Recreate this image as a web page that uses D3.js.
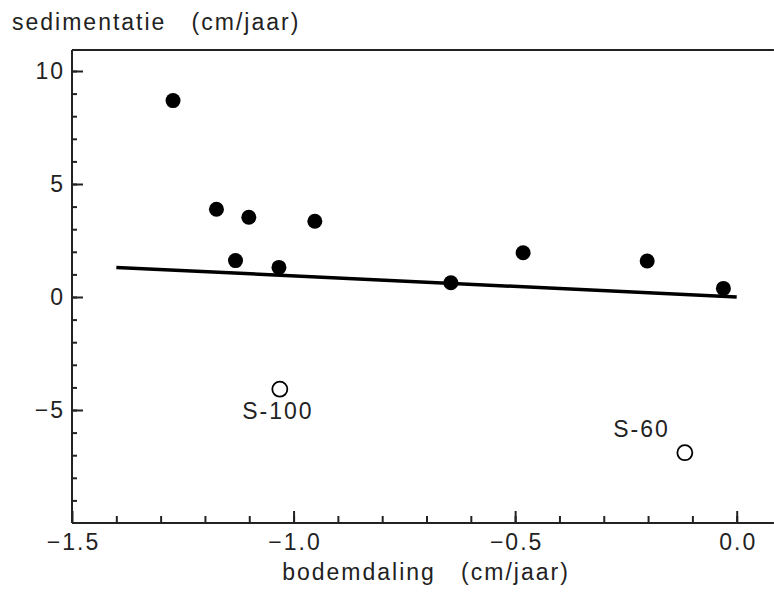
<!DOCTYPE html>
<html><head><meta charset="utf-8">
<script src="https://cdn.jsdelivr.net/npm/d3@7"></script>
<style>
body{margin:0;background:#fff;}
text{font-family:"Liberation Sans",Arial,sans-serif;fill:#222;white-space:pre;letter-spacing:2px;}
</style></head>
<body><svg id="c" width="774" height="596"></svg>
<script>
// data
const filledX = [-1.272, -1.174, -1.101, -0.952, -1.131, -1.033, -0.645, -0.482, -0.202, -0.030];
const filledY = [8.69, 3.88, 3.53, 3.35, 1.61, 1.31, 0.63, 1.96, 1.59, 0.38];
const openX = [-1.031, -0.117];
const openY = [-4.08, -6.89];
const openLabels = ["S-100", "S-60"];
const lineX = [-1.4, 0];
const lineY = [1.31, 0];
const xTicks = [-1.5, -1.0, -0.5, 0.0];
const yTicks = [-5, 0, 5, 10];
const xMinor = d3.range(-14, 1).map(d => d / 10);
const yMinor = d3.range(-9, 11);
const yLabel = "sedimentatie   (cm/jaar)";
const xLabel = "bodemdaling   (cm/jaar)";

const svg = d3.select("#c");
const x = d3.scaleLinear().domain([-1.5, 0]).range([72, 736.7]);
const y = d3.scaleLinear().domain([-10, 10]).range([523, 71]);
const xMax = 0.084, yMax = 10.93;
const ink = "#222";
const fs = 23;

// frame
svg.append("line").attr("x1", x(-1.5)).attr("x2", x(xMax)).attr("y1", y(yMax)).attr("y2", y(yMax))
  .attr("stroke", ink).attr("stroke-width", 2);

// axes
const fmtX = d3.format(".1f");
const gx = svg.append("g").attr("transform", `translate(0,${y(-10)})`)
  .call(d3.axisBottom(x).tickValues(xTicks).tickFormat(fmtX).tickSizeInner(-12).tickSizeOuter(0).tickPadding(11));
const gxm = svg.append("g").attr("transform", `translate(0,${y(-10)})`)
  .call(d3.axisBottom(x).tickValues(xMinor).tickFormat("").tickSizeInner(-7).tickSizeOuter(0));
gxm.select(".domain").remove();
gx.select(".domain").attr("d", `M${x(-1.5)},0H${x(xMax)}`);

const gy = svg.append("g").attr("transform", `translate(${x(-1.5)},0)`)
  .call(d3.axisLeft(y).tickValues(yTicks).tickFormat(d3.format("d")).tickSizeInner(-11).tickSizeOuter(0).tickPadding(7));
const gym = svg.append("g").attr("transform", `translate(${x(-1.5)},0)`)
  .call(d3.axisLeft(y).tickValues(yMinor).tickFormat("").tickSizeInner(-5).tickSizeOuter(0));
gym.select(".domain").remove();
gy.select(".domain").attr("d", `M0,${y(yMax)}V${y(-10)}`);

[gx, gxm, gy, gym].forEach(g => {
  g.selectAll("line").attr("stroke", ink).attr("stroke-width", 2);
  g.selectAll("path").attr("stroke", ink).attr("stroke-width", 2);
  g.selectAll("text").attr("font-size", fs).attr("font-family", null).attr("fill", ink);
});
gx.selectAll("text").attr("dx", 1);

// regression line
svg.append("path")
  .datum(d3.zip(lineX, lineY))
  .attr("d", d3.line().x(d => x(d[0])).y(d => y(d[1])))
  .attr("fill", "none").attr("stroke", "#000").attr("stroke-width", 3.5);

// filled points
svg.selectAll("circle.f").data(d3.zip(filledX, filledY)).join("circle")
  .attr("class", "f").attr("cx", d => x(d[0])).attr("cy", d => y(d[1])).attr("r", 7.5).attr("fill", "#000");

// open points
svg.selectAll("circle.o").data(d3.zip(openX, openY)).join("circle")
  .attr("class", "o").attr("cx", d => x(d[0])).attr("cy", d => y(d[1])).attr("r", 7.5)
  .attr("fill", "#fff").attr("stroke", "#000").attr("stroke-width", 1.8);

// point labels
const lab = [{a: "middle", dx: -2, dy: 30}, {a: "end", dx: -15, dy: -16}];
svg.selectAll("text.pl").data(openLabels).join("text").attr("class", "pl")
  .attr("x", (d, i) => x(openX[i]) + lab[i].dx).attr("y", (d, i) => y(openY[i]) + lab[i].dy)
  .attr("text-anchor", (d, i) => lab[i].a).attr("font-size", fs).text(d => d);

// axis titles
svg.append("text").attr("x", 12).attr("y", 30).attr("font-size", fs).text(yLabel);
svg.append("text").attr("x", 426).attr("y", 580).attr("text-anchor", "middle").attr("font-size", fs).text(xLabel);
</script></body></html>
